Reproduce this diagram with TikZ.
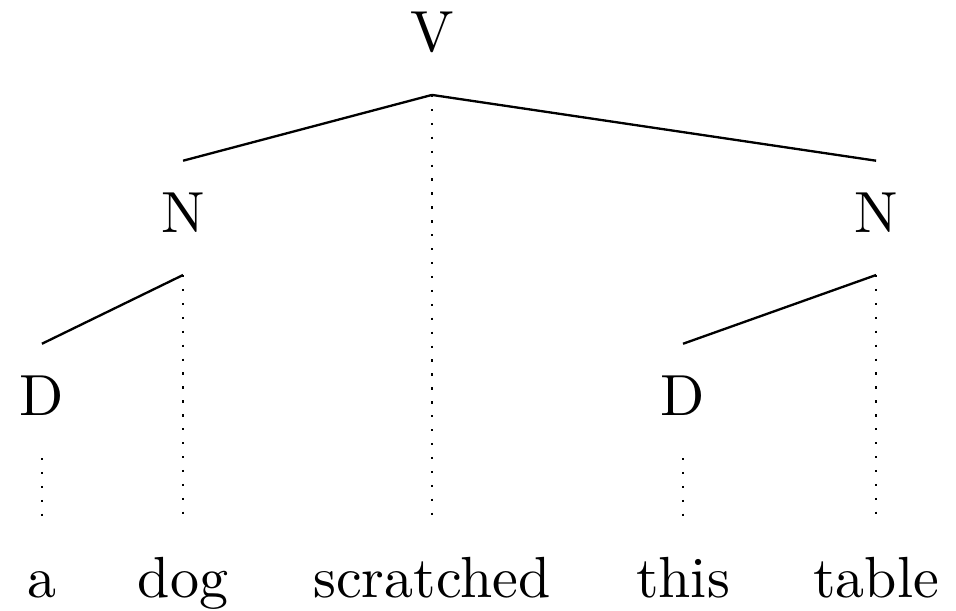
\documentclass[tikz,border=0pt]{standalone}
\usepackage{tikz}

\tikzset{
  cat/.style={anchor=base, inner xsep=0pt, inner ysep=0pt, text height=12.1pt, text depth=7.2pt},
  word/.style={anchor=base, inner xsep=0pt, inner ysep=0pt, text height=13.3pt, text depth=2pt},
  proj/.style={densely dotted, dash pattern=on 0.4pt off 2pt}
}

\begin{document}
\begin{tikzpicture}
\useasboundingbox (0,0) rectangle (5.792,3.696);
% categories
\node[cat] (V)  at (2.617,3.381) {V};
\node[cat] (N1) at (1.109,2.290) {N};
\node[cat] (N2) at (5.308,2.290) {N};
\node[cat] (D1) at (0.254,1.181) {D};
\node[cat] (D2) at (4.138,1.181) {D};
% words
\node[word] (w1) at (0.254,0.079) {a};
\node[word] (w2) at (1.109,0.079) {dog};
\node[word] (w3) at (2.617,0.079) {scratched};
\node[word] (w4) at (4.138,0.079) {this};
\node[word] (w5) at (5.308,0.079) {table};
% dependencies
\draw (V.south) -- (N1.north);
\draw (V.south) -- (N2.north);
\draw (N1.south) -- (D1.north);
\draw (N2.south) -- (D2.north);
% projection lines
\draw[proj] (V.south) -- (w3.north);
\draw[proj] (N1.south) -- (w2.north);
\draw[proj] (N2.south) -- (w5.north);
\draw[proj] (D1.south) -- (w1.north);
\draw[proj] (D2.south) -- (w4.north);
\end{tikzpicture}
\end{document}
